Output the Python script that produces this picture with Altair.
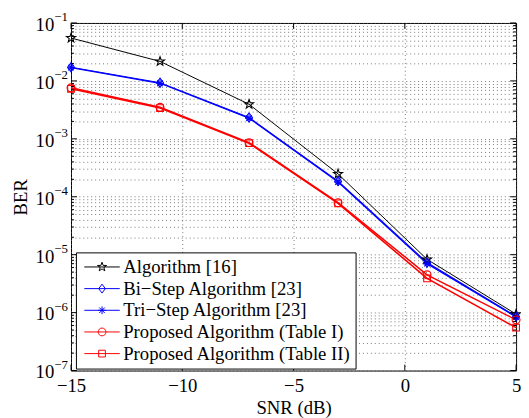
import math
import altair as alt
import pandas as pd

# ---- data ----
snr = [-15, -11, -7, -3, 1, 5]
ber_alg16 = [5.5e-2, 2.17e-2, 3.95e-3, 2.48e-4, 8.3e-6, 9.4e-7]
ber_bistep = [1.72e-2, 9.3e-3, 2.33e-3, 1.86e-4, 7.3e-6, 8.6e-7]
ber_tristep = [1.69e-2, 9.1e-3, 2.28e-3, 1.80e-4, 7.0e-6, 8.4e-7]
ber_table1 = [7.6e-3, 3.5e-3, 8.6e-4, 7.9e-5, 4.5e-6, 7.5e-7]
ber_table2 = [7.3e-3, 3.4e-3, 8.4e-4, 7.7e-5, 3.9e-6, 5.5e-7]

series_names = [
    "Algorithm [16]",
    "Bi\u2212Step Algorithm [23]",
    "Tri\u2212Step Algorithm [23]",
    "Proposed Algorithm (Table I)",
    "Proposed Algorithm (Table II)",
]
series_values = [ber_alg16, ber_bistep, ber_tristep, ber_table1, ber_table2]
colors = ["#000000", "#0000ff", "#0000ff", "#ff0000", "#ff0000"]
line_widths = [1.0, 1.6, 1.6, 1.3, 1.3]

x_ticks = [-15, -10, -5, 0, 5]
decades = [1e-1, 1e-2, 1e-3, 1e-4, 1e-5, 1e-6, 1e-7]
decade_exp_labels = ["\u22121", "\u22122", "\u22123", "\u22124", "\u22125", "\u22126", "\u22127"]
minor_ticks = [k * 10.0 ** e for e in range(-7, -1) for k in range(2, 10)]
grid_ticks = sorted(decades + minor_ticks)

FONT = "Liberation Serif"
FS = 19
W, H = 452, 353

# ---- marker paths ----
def star(r, cx=0.0):
    pts = []
    for i in range(10):
        a = math.radians(-90 + 36 * i)
        rr = r if i % 2 == 0 else r * 0.4
        pts.append((cx + rr * math.cos(a), rr * math.sin(a)))
    return "M" + "L".join(f"{x:.3f},{y:.3f}" for x, y in pts) + "Z"

def diamond(r):
    w = r * 0.75
    return f"M0,{-r}L{w},0L0,{r}L{-w},0Z"

def asterisk(r):
    a = r * 0.707
    return f"M{-r},0L{r},0M0,{-r}L0,{r}M{-a},{-a}L{a},{a}M{-a},{a}L{a},{-a}"

def circle(r):
    return f"M{r},0A{r},{r} 0 1,1 {-r},0A{r},{r} 0 1,1 {r},0Z"

def square(r):
    return f"M{-r},{-r}L{r},{-r}L{r},{r}L{-r},{r}Z"

marker_paths = [star(1.2), diamond(1.15), asterisk(1.0), circle(1.0), square(0.85)]
seg = "M-1,0L1,0"
legend_paths = [seg + star(0.27), seg + diamond(0.25), seg + asterisk(0.22),
                seg + circle(0.22), seg + square(0.19)]

rows = []
for name, vals in zip(series_names, series_values):
    for x, y in zip(snr, vals):
        rows.append({"snr": x, "ber": y, "series": name})
df = pd.DataFrame(rows)

xscale = alt.Scale(domain=[-15, 5], nice=False, zero=False)
yscale = alt.Scale(type="log", domain=[1e-7, 1e-1], nice=False)

grid_style = dict(grid=True, gridDash=[1, 3], gridColor="#555555", gridWidth=0.8,
                  gridOpacity=1, ticks=False, tickSize=0, domain=False)

xenc = alt.X("snr:Q", scale=xscale,
             axis=alt.Axis(values=x_ticks, title="SNR (dB)", labelFont=FONT, labelFontSize=FS,
                           labelColor="black", labelPadding=6, titleFont=FONT, titleFontSize=FS,
                           titleFontWeight="normal", titleColor="black", titlePadding=4,
                           labelFlush=False, **grid_style))
yenc = alt.Y("ber:Q", scale=yscale,
             axis=alt.Axis(values=grid_ticks, labels=False, title="BER", titleFont=FONT,
                           titleFontSize=FS, titleFontWeight="normal", titleColor="black",
                           titlePadding=41, **grid_style))

lines = alt.Chart(df).mark_line().encode(
    x=xenc, y=yenc,
    color=alt.Color("series:N", scale=alt.Scale(domain=series_names, range=colors), legend=None),
    strokeWidth=alt.StrokeWidth("series:N", scale=alt.Scale(domain=series_names, range=line_widths), legend=None),
    detail="series:N",
)

points = alt.Chart(df).mark_point(filled=False, size=64, strokeWidth=1.1, opacity=1).encode(
    x="snr:Q", y="ber:Q",
    color=alt.Color("series:N", scale=alt.Scale(domain=series_names, range=colors), legend=None),
    shape=alt.Shape("series:N", scale=alt.Scale(domain=series_names, range=marker_paths), legend=None),
)

leg_props = dict(orient="none", legendX=5, legendY=233, title=None, padding=4,
                 strokeColor="black", fillColor="white", labelFont=FONT, labelFontSize=FS,
                 labelColor="black", symbolSize=1296, symbolStrokeWidth=1, labelOffset=3,
                 clipHeight=21.6, rowPadding=0, symbolOffset=4, labelLimit=400,
                 cornerRadius=0, labelBaseline="middle")
legend_layer = alt.Chart(df).mark_point(filled=False, opacity=1).encode(
    x="snr:Q", y="ber:Q",
    color=alt.Color("series:N", scale=alt.Scale(domain=series_names, range=colors), legend=alt.Legend(**leg_props)),
    shape=alt.Shape("series:N", scale=alt.Scale(domain=series_names, range=legend_paths), legend=alt.Legend(**leg_props)),
).transform_filter("false")

# inner tick marks (MATLAB style)
dec_df = pd.DataFrame({"v": decades, "e": decade_exp_labels})
min_df = pd.DataFrame({"v": minor_ticks})
xt_df = pd.DataFrame({"x": x_ticks})

def yrule(data, x0, x1):
    return alt.Chart(data).mark_rule(color="black", strokeWidth=1).encode(
        y=alt.Y("v:Q", scale=yscale), x=alt.value(x0), x2=alt.value(x1))

tick_layers = [
    yrule(dec_df, 0, 6), yrule(dec_df, W - 6, W),
    yrule(min_df, 0, 3), yrule(min_df, W - 3, W),
    alt.Chart(xt_df).mark_rule(color="black", strokeWidth=1).encode(
        x=alt.X("x:Q", scale=xscale), y=alt.value(H), y2=alt.value(H - 6)),
    alt.Chart(xt_df).mark_rule(color="black", strokeWidth=1).encode(
        x=alt.X("x:Q", scale=xscale), y=alt.value(0), y2=alt.value(6)),
]

ylab10 = alt.Chart(dec_df).mark_text(align="right", baseline="middle", font=FONT, fontSize=FS,
                                     color="black", dy=2).encode(
    y=alt.Y("v:Q", scale=yscale), x=alt.value(-17), text=alt.value("10"))
ylabexp = alt.Chart(dec_df).mark_text(align="left", baseline="middle", font=FONT, fontSize=13,
                                      color="black", dy=-6).encode(
    y=alt.Y("v:Q", scale=yscale), x=alt.value(-17), text="e:N")

chart = alt.layer(lines, points, *tick_layers, ylab10, ylabexp, legend_layer).resolve_scale(
    color="independent", shape="independent"
).properties(
    width=W, height=H,
    autosize=alt.AutoSizeParams(type="none"),
    padding={"left": 64, "top": 12, "right": 5, "bottom": 45},
    background="white",
).configure_view(stroke="black", strokeWidth=1)

chart.save("out.html", embed_options={"renderer": "svg", "actions": False})
